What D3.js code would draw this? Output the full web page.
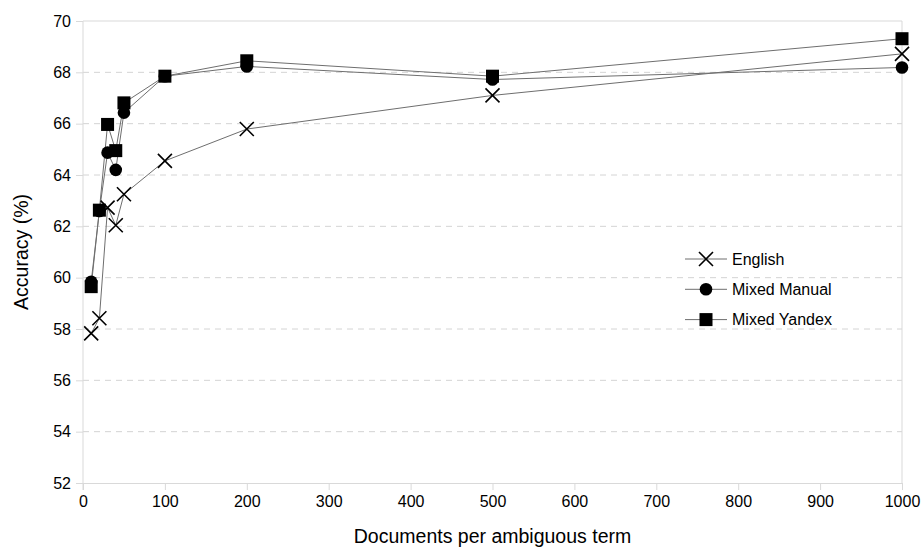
<!DOCTYPE html>
<html>
<head>
<meta charset="utf-8">
<script src="https://cdn.jsdelivr.net/npm/d3@7"></script>
<style>
  body { margin: 0; background: #fff; }
  text { font-family: "Liberation Sans", Arial, sans-serif; fill: #000; }
</style>
</head>
<body>
<div id="chart"></div>
<script>
/* DATA */
const docs = [10, 20, 30, 40, 50, 100, 200, 500, 1000];
const english = [57.83, 58.42, 62.73, 62.04, 63.25, 64.55, 65.79, 67.1, 68.72];
const mixedManual = [59.84, 62.6, 64.87, 64.2, 66.43, 67.85, 68.23, 67.72, 68.19];
const mixedYandex = [59.65, 62.63, 65.97, 64.95, 66.81, 67.85, 68.45, 67.85, 69.31];
const xTicks = [0, 100, 200, 300, 400, 500, 600, 700, 800, 900, 1000];
const yTicks = [52, 54, 56, 58, 60, 62, 64, 66, 68, 70];

const series = [
  { name: "English", values: english, marker: "cross" },
  { name: "Mixed Manual", values: mixedManual, marker: "circle" },
  { name: "Mixed Yandex", values: mixedYandex, marker: "square" }
];

/* CONSTANTS */
const width = 922, height = 547,
  margin = { top: 21, right: 20, bottom: 64, left: 83 };

const svg = d3.select("#chart").append("svg")
  .attr("width", width)
  .attr("height", height);

const xScale = d3.scaleLinear().domain([0, 1000]).range([margin.left, width - margin.right]);
const yScale = d3.scaleLinear().domain([52, 70]).range([height - margin.bottom, margin.top]);

// gridlines
svg.append("g")
  .selectAll("line")
  .data(yTicks.filter(d => d > 52 && d < 70))
  .join("line")
    .attr("x1", xScale(0))
    .attr("x2", xScale(1000))
    .attr("y1", d => yScale(d))
    .attr("y2", d => yScale(d))
    .attr("stroke", "#d4d4d4")
    .attr("stroke-dasharray", "6,5");

// frame top/right
svg.append("path")
  .attr("d", `M${xScale(0)},${yScale(70)}H${xScale(1000)}V${yScale(52)}`)
  .attr("fill", "none")
  .attr("stroke", "#d9d9d9");

// axes
const xAxis = d3.axisBottom(xScale).tickValues(xTicks).tickFormat(d3.format("d")).tickSize(7).tickPadding(6);
const yAxis = d3.axisLeft(yScale).tickValues(yTicks).tickSize(7).tickPadding(5);

const gx = svg.append("g")
  .attr("transform", `translate(0,${yScale(52)})`)
  .call(xAxis);
const gy = svg.append("g")
  .attr("transform", `translate(${xScale(0)},0)`)
  .call(yAxis);

[gx, gy].forEach(g => {
  g.select(".domain").attr("stroke", "#d9d9d9");
  g.selectAll(".tick line").attr("stroke", "#d9d9d9");
  g.selectAll(".tick text")
    .attr("font-family", "Liberation Sans, Arial, sans-serif")
    .attr("font-size", 16)
    .attr("fill", "#000");
});
gy.select(".domain").attr("d", `M0,${yScale(70)}V${yScale(52) + 7}`);

// axis titles
svg.append("text")
  .attr("x", (xScale(0) + xScale(1000)) / 2)
  .attr("y", 543)
  .attr("text-anchor", "middle")
  .attr("font-size", 19.5)
  .text("Documents per ambiguous term");

svg.append("text")
  .attr("transform", `translate(28,${(yScale(52) + yScale(70)) / 2}) rotate(-90)`)
  .attr("text-anchor", "middle")
  .attr("font-size", 19.5)
  .text("Accuracy (%)");

// lines
const line = d3.line()
  .x((d, i) => xScale(docs[i]))
  .y(d => yScale(d));

svg.append("g")
  .selectAll("path")
  .data(series)
  .join("path")
    .attr("d", d => line(d.values))
    .attr("fill", "none")
    .attr("stroke", "#6e6e6e")
    .attr("stroke-width", 1);

function drawMarker(g, type) {
  if (type === "cross") {
    g.append("path")
      .attr("d", "M-7,-7L7,7M-7,7L7,-7")
      .attr("stroke", "#000")
      .attr("stroke-width", 1.6)
      .attr("fill", "none");
  } else if (type === "circle") {
    g.append("circle").attr("r", 6.3).attr("fill", "#000");
  } else {
    g.append("rect")
      .attr("x", -6.5).attr("y", -6.5)
      .attr("width", 13).attr("height", 13)
      .attr("fill", "#000");
  }
}

// markers
series.forEach(s => {
  svg.append("g")
    .selectAll("g")
    .data(s.values)
    .join("g")
      .attr("transform", (d, i) => `translate(${xScale(docs[i])},${yScale(d)})`)
      .each(function () { drawMarker(d3.select(this), s.marker); });
});

// legend
const legend = svg.append("g").attr("transform", "translate(685,259)");
const rows = legend.selectAll("g")
  .data(series)
  .join("g")
    .attr("transform", (d, i) => `translate(0,${i * 30.3})`);
rows.append("line")
  .attr("x1", 0).attr("x2", 42)
  .attr("stroke", "#6e6e6e");
rows.each(function (d) {
  const g = d3.select(this).append("g").attr("transform", "translate(21,0)");
  drawMarker(g, d.marker);
});
rows.append("text")
  .attr("x", 47)
  .attr("dy", "0.35em")
  .attr("font-size", 16)
  .text(d => d.name);
</script>
</body>
</html>
